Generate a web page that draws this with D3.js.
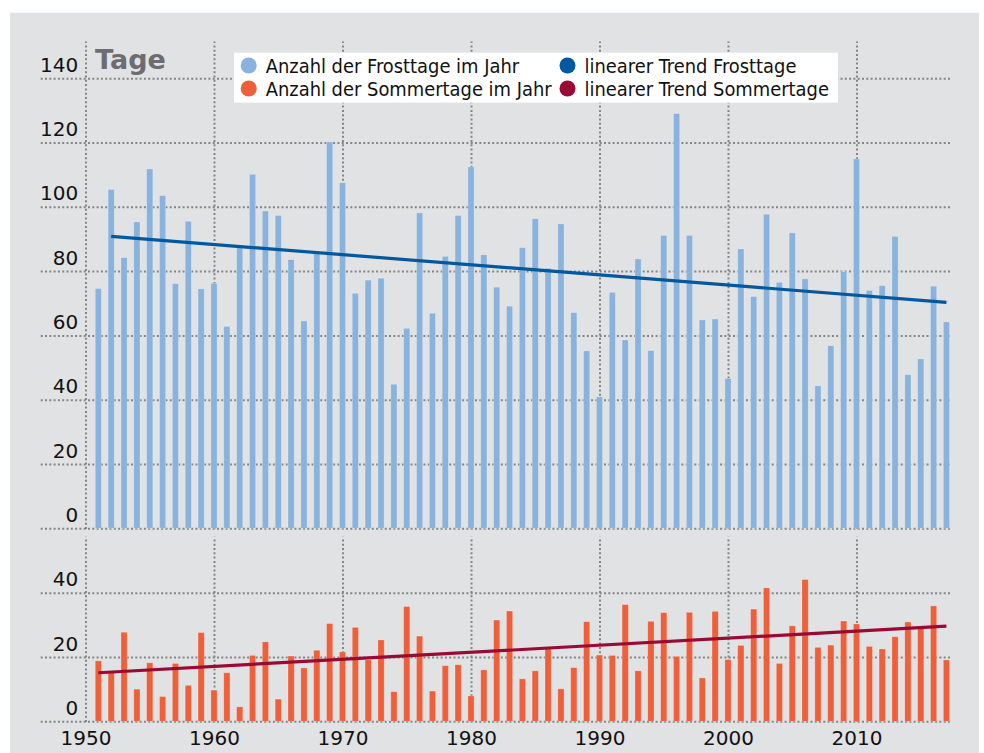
<!DOCTYPE html>
<html><head><meta charset="utf-8">
<script src="https://cdn.jsdelivr.net/npm/d3@7"></script>
<style>
body{margin:0;background:#fff;}
svg{display:block;}
</style>
</head><body>
<svg id="chart" width="984" height="753"></svg>
<script>
// ---------- data ----------
const years = [1951,1952,1953,1954,1955,1956,1957,1958,1959,1960,
  1961,1962,1963,1964,1965,1966,1967,1968,1969,1970,
  1971,1972,1973,1974,1975,1976,1977,1978,1979,1980,
  1981,1982,1983,1984,1985,1986,1987,1988,1989,1990,
  1991,1992,1993,1994,1995,1996,1997,1998,1999,2000,
  2001,2002,2003,2004,2005,2006,2007,2008,2009,2010,
  2011,2012,2013,2014,2015,2016,2017];
const frostDays = [74.6,105.4,84.2,95.3,111.8,103.5,76.1,95.5,74.5,76.2,
  62.8,87.3,110.1,98.7,97.3,83.6,64.5,86.2,120.2,107.5,
  73.1,77.2,77.8,44.8,62.2,98.1,66.9,84.6,97.3,112.4,
  85.1,75.0,69.1,87.3,96.3,80.9,94.7,67.1,55.2,40.9,
  73.4,58.6,83.8,55.3,91.1,129.0,91.1,64.8,65.1,46.6,
  86.9,72.1,97.7,76.5,91.9,77.6,44.3,56.8,79.9,114.9,
  74.0,75.5,90.8,47.8,52.7,75.3,64.2];
const summerDays = [18.8,15.2,27.7,10.0,18.2,7.7,18.0,11.2,27.6,9.7,
  15.1,4.5,20.5,24.7,6.9,20.3,16.6,22.1,30.4,21.6,
  29.2,19.1,25.3,9.2,35.7,26.5,9.4,17.3,17.6,7.9,
  16.0,31.5,34.3,13.2,15.7,22.7,10.1,16.7,31.0,20.6,
  20.5,36.3,15.7,31.1,33.8,20.2,33.9,13.5,34.2,19.2,
  23.6,34.9,41.5,18.0,29.7,44.1,23.0,23.7,31.2,30.3,
  23.3,22.5,26.3,30.9,29.4,35.9,19.1];
const trendFrost = [[1952, 90.8], [2017, 70.3]];
const trendSummer = [[1951, 15.1], [2017, 29.6]];
const topTicks = [0,20,40,60,80,100,120,140];
const bottomTicks = [0,20,40];
const xTicks = [1950,1960,1970,1980,1990,2000,2010];
const legendItems = [
  {label:"Anzahl der Frosttage im Jahr", color:"#89b3dc"},
  {label:"Anzahl der Sommertage im Jahr", color:"#ee5f3a"},
  {label:"linearer Trend Frosttage", color:"#00589e"},
  {label:"linearer Trend Sommertage", color:"#990b35"}
];
const unitLabel = "Tage";

// ---------- layout ----------
const svg = d3.select("#chart");
const gridLeft = 40.7, gridRight = 951.5;
const x = d3.scaleLinear().domain([1950, 2010]).range([85.5, 856.5]);
const yTop = d3.scaleLinear().domain([0, 140]).range([528.3, 78.2]);
const yBot = d3.scaleLinear().domain([0, 40]).range([721.3, 592.7]);
const topPanel = [41.5, 529];
const botPanel = [536.7, 722];
const barW = 6.2;

svg.append("rect").attr("x",10).attr("y",12.7).attr("width",969).attr("height",760)
  .attr("fill","#e1e2e4");

const gridColor = "#858585";
function styleGrid(g){
  g.select(".domain").remove();
  g.selectAll(".tick line").attr("stroke",gridColor).attr("stroke-width",2)
    .attr("stroke-dasharray","2,2.3");
}

// vertical grid lines
[[topPanel],[botPanel]].forEach(([p]) => {
  const g = svg.append("g").attr("transform",`translate(0,${p[1]})`)
    .call(d3.axisTop(x).tickValues(xTicks).tickSize(p[1]-p[0]).tickFormat(""));
  styleGrid(g);
});

// horizontal grid lines + y labels
function yAxis(scale, ticks){
  const g = svg.append("g").attr("transform",`translate(${gridLeft},0)`)
    .call(d3.axisLeft(scale).tickValues(ticks).tickSize(-(gridRight-gridLeft)).tickPadding(0));
  styleGrid(g);
  g.selectAll(".tick text").attr("x",37.6).attr("dy",null).attr("y",-7)
    .attr("text-anchor","end").attr("fill","#111")
    .style("font-family","'DejaVu Sans', sans-serif").style("font-size","20px");
}
yAxis(yTop, topTicks);
yAxis(yBot, bottomTicks);

// x labels
const xg = svg.append("g").attr("transform","translate(0,722)")
  .call(d3.axisBottom(x).tickValues(xTicks).tickSize(0).tickFormat(d3.format("d")));
xg.select(".domain").remove();
xg.selectAll(".tick text").attr("dy",null).attr("y",23).attr("fill","#111")
  .style("font-family","'DejaVu Sans', sans-serif").style("font-size","20px");

// bars
svg.append("g").selectAll("rect").data(years).join("rect")
  .attr("x", d => x(d) - barW/2).attr("width", barW)
  .attr("y", (d,i) => yTop(frostDays[i]))
  .attr("height", (d,i) => yTop(0) - yTop(frostDays[i]))
  .attr("fill", legendItems[0].color)
  .attr("stroke","rgba(255,255,255,0.3)").attr("stroke-width",0.8);
svg.append("g").selectAll("rect").data(years).join("rect")
  .attr("x", d => x(d) - barW/2).attr("width", barW)
  .attr("y", (d,i) => yBot(summerDays[i]))
  .attr("height", (d,i) => yBot(0) - yBot(summerDays[i]))
  .attr("fill", legendItems[1].color)
  .attr("stroke","rgba(255,255,255,0.3)").attr("stroke-width",0.8);

// trend lines
svg.append("path").datum(trendFrost)
  .attr("d", d3.line().x(d => x(d[0])).y(d => yTop(d[1])))
  .attr("fill","none").attr("stroke",legendItems[2].color).attr("stroke-width",3.2);
svg.append("path").datum(trendSummer)
  .attr("d", d3.line().x(d => x(d[0])).y(d => yBot(d[1])))
  .attr("fill","none").attr("stroke",legendItems[3].color).attr("stroke-width",3.2);

// unit label
svg.append("text").attr("x",95).attr("y",69).text(unitLabel)
  .attr("fill","#6c6c71").style("font-family","'DejaVu Sans', sans-serif")
  .style("font-weight","bold").style("font-size","27px");

// legend
const lg = svg.append("g");
lg.append("rect").attr("x",234).attr("y",52.7).attr("width",604).attr("height",50).attr("fill","#fff");
const colX = [248.7, 567.5], rowY = [65.5, 88.5];
legendItems.forEach((d,i) => {
  const cx = colX[Math.floor(i/2)], cy = rowY[i%2];
  lg.append("circle").attr("cx",cx).attr("cy",cy).attr("r",8).attr("fill",d.color);
  lg.append("text").attr("x",cx+17).attr("y",cy+7).text(d.label).attr("fill","#111")
    .style("font-family","'DejaVu Sans Condensed', 'DejaVu Sans', sans-serif")
    .style("font-stretch","condensed").style("font-size","19.9px");
});
</script>
</body></html>
